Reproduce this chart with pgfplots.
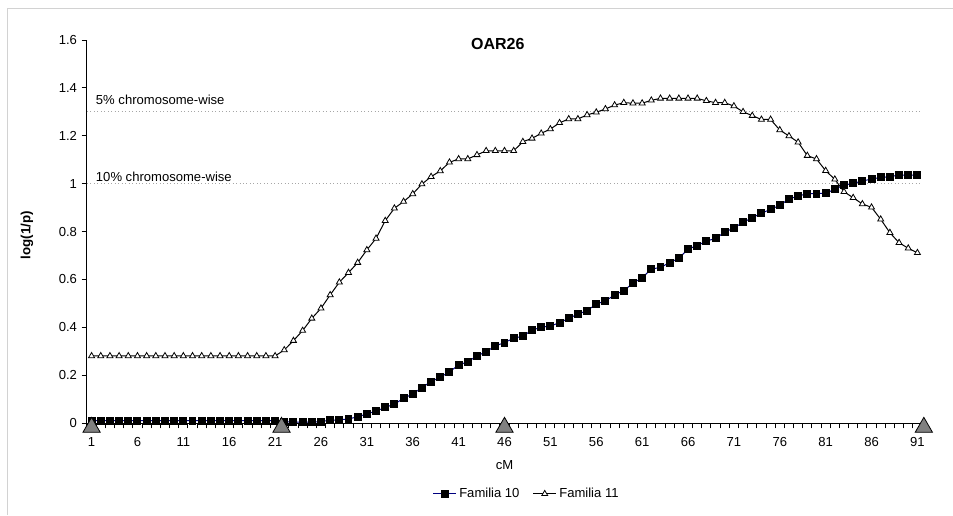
\documentclass[border=0pt]{standalone}
\usepackage{pgfplots}
\usepackage{pgfplotstable}
\pgfplotsset{compat=1.18}
\usepackage{fontspec}
\setmainfont{Liberation Sans}

% cM position, Familia 10, Familia 11
\pgfplotstableread{
x  f10    f11
1  0.010  0.280
2  0.010  0.280
3  0.010  0.280
4  0.010  0.280
5  0.010  0.280
6  0.010  0.280
7  0.010  0.280
8  0.010  0.280
9  0.010  0.280
10 0.010  0.280
11 0.010  0.280
12 0.010  0.280
13 0.010  0.280
14 0.010  0.280
15 0.010  0.280
16 0.010  0.280
17 0.010  0.280
18 0.010  0.280
19 0.010  0.280
20 0.010  0.280
21 0.010  0.280
22 0.006  0.305
23 0.004  0.344
24 0.004  0.386
25 0.004  0.437
26 0.006  0.479
27 0.012  0.535
28 0.013  0.588
29 0.017  0.628
30 0.026  0.670
31 0.038  0.723
32 0.050  0.771
33 0.065  0.845
34 0.079  0.897
35 0.103  0.925
36 0.121  0.957
37 0.148  0.998
38 0.173  1.029
39 0.191  1.053
40 0.214  1.089
41 0.242  1.103
42 0.256  1.103
43 0.280  1.120
44 0.298  1.137
45 0.322  1.137
46 0.336  1.137
47 0.354  1.137
48 0.363  1.175
49 0.388  1.189
50 0.400  1.210
51 0.405  1.228
52 0.419  1.254
53 0.437  1.270
54 0.455  1.270
55 0.469  1.287
56 0.497  1.298
57 0.510  1.312
58 0.535  1.328
59 0.553  1.338
60 0.584  1.336
61 0.607  1.336
62 0.643  1.348
63 0.650  1.356
64 0.670  1.356
65 0.688  1.356
66 0.727  1.356
67 0.741  1.356
68 0.760  1.346
69 0.771  1.338
70 0.797  1.338
71 0.815  1.324
72 0.838  1.300
73 0.858  1.284
74 0.876  1.268
75 0.893  1.268
76 0.909  1.224
77 0.936  1.199
78 0.948  1.173
79 0.958  1.117
80 0.958  1.103
81 0.960  1.054
82 0.976  1.018
83 0.994  0.966
84 1.001  0.941
85 1.011  0.915
86 1.019  0.901
87 1.026  0.851
88 1.029  0.795
89 1.036  0.753
90 1.036  0.730
91 1.036  0.711
}\qtl

\begin{document}
\begin{tikzpicture}
% 1px = 0.75pt, axis box lower left = (0,0)
\path[use as bounding box] (-65.25pt,-69pt) rectangle (649.5pt,317.25pt);
\draw[gray!35, line width=0.75pt] (-59.25pt,-69pt) -- (-59.25pt,310.5pt) -- (649.5pt,310.5pt);
\begin{axis}[
    scale only axis,
    width=626.25pt, height=287.25pt,
    xmin=0.5, xmax=91.5,
    ymin=0, ymax=1.6,
    clip=false,
    axis x line*=bottom, axis y line*=left,
    axis line style={-, black, line width=0.75pt},
    tick align=outside,
    major tick length=4pt,
    tick style={black, line width=0.75pt},
    xtick={0.5,1.5,...,91.5},
    xticklabels={},
    extra x ticks={1,6,11,16,21,26,31,36,41,46,51,56,61,66,71,76,81,86,91},
    extra x tick labels={1,6,11,16,21,26,31,36,41,46,51,56,61,66,71,76,81,86,91},
    extra x tick style={major tick length=0pt, xticklabel style={yshift=-7.5pt}},
    ytick={0,0.2,0.4,0.6,0.8,1,1.2,1.4,1.6},
    yticklabels={0,0.2,0.4,0.6,0.8,1,1.2,1.4,1.6},
    tick label style={font=\fontsize{9.8}{11}\selectfont,
        /pgf/number format/assume math mode=true},
    title={OAR26},
    title style={font=\bfseries\fontsize{12}{14}\selectfont,
        at={(rel axis cs:0.492,0.969)}, anchor=center},
    xlabel={cM},
    xlabel style={font=\fontsize{9.8}{11}\selectfont,
        at={(rel axis cs:0.5,-0.1097)}, anchor=center},
    ylabel={log(1/p)},
    ylabel style={font=\bfseries\fontsize{10}{12}\selectfont,
        at={(rel axis cs:-0.072,0.491)}, anchor=center, rotate=0},
    legend style={at={(rel axis cs:0.527,-0.185)}, anchor=center,
        draw=none, fill=none, legend columns=2,
        font=\fontsize{9.8}{11}\selectfont,
        /tikz/every even column/.append style={column sep=8pt}},
]
% significance thresholds
\addplot[gray!70, dotted, line width=0.6pt, forget plot] coordinates {(0.5,1.3) (91.2,1.3)};
\addplot[gray!70, dotted, line width=0.6pt, forget plot] coordinates {(0.5,1) (91.2,1)};
\node[anchor=west, font=\fontsize{9.8}{11}\selectfont, inner sep=0pt]
    at (axis cs:1.45,1.349) {5\% chromosome-wise};
\node[anchor=west, font=\fontsize{9.8}{11}\selectfont, inner sep=0pt]
    at (axis cs:1.45,1.03) {10\% chromosome-wise};

\addplot[color={rgb,255:red,0;green,0;blue,128}, line width=0.75pt,
    mark=square*, mark size=2.6pt,
    mark options={fill=black, draw=black}]
    table[x=x, y=f10] {\qtl};
\addlegendentry{Familia 10}

\addplot[black, line width=0.75pt,
    mark=triangle*, mark size=2.6pt,
    mark options={fill=white, draw=black, line width=0.6pt}]
    table[x=x, y=f11] {\qtl};
\addlegendentry{Familia 11}

% marker positions on the map
\addplot[only marks, mark=triangle*, mark size=7.5pt,
    mark options={fill=gray, draw=black, line width=0.6pt}, forget plot]
    coordinates {(1,-0.018) (21.7,-0.018) (46,-0.018) (91.7,-0.018)};
\end{axis}
\end{tikzpicture}
\end{document}
